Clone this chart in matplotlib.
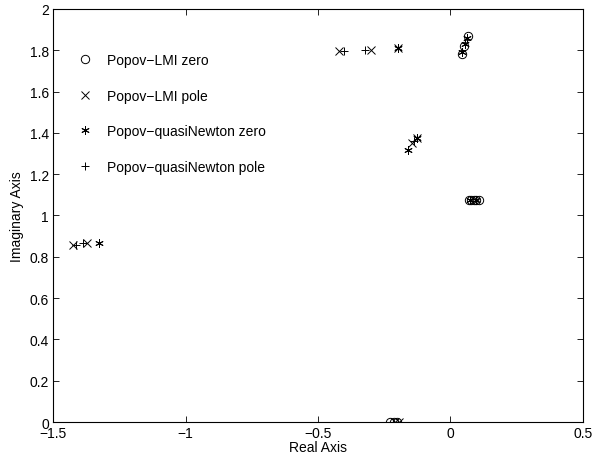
import matplotlib
matplotlib.use("Agg")
import matplotlib.pyplot as plt

plt.rcParams["font.family"] = ["Liberation Sans", "DejaVu Sans"]
plt.rcParams["axes.unicode_minus"] = True

# Popov-LMI zeros (o)
lmi_zero_re = [0.042, 0.051, 0.066, 0.068, 0.078, 0.088, 0.098, 0.106, -0.228, -0.214, -0.200]
lmi_zero_im = [1.782, 1.822, 1.871, 1.075, 1.075, 1.075, 1.075, 1.075, 0.0, 0.0, 0.0]
# Popov-LMI poles (x)
lmi_pole_re = [-1.425, -1.372, -0.421, -0.300, -0.198, -0.146, -0.125, -0.210, -0.195]
lmi_pole_im = [0.857, 0.866, 1.797, 1.803, 1.810, 1.351, 1.375, 0.0, 0.0]
# Popov-quasiNewton zeros (*)
qn_zero_re = [0.045, 0.055, 0.063, -1.328, -0.198, -0.162, -0.125, 0.075, 0.095]
qn_zero_im = [1.790, 1.832, 1.860, 0.868, 1.810, 1.317, 1.375, 1.075, 1.075]
# Popov-quasiNewton poles (+)
qn_pole_re = [-1.415, -1.385, -0.403, -0.323, -0.138]
qn_pole_im = [0.858, 0.865, 1.797, 1.803, 1.362]

fig = plt.figure(figsize=(6.06, 4.60), dpi=100)
ax = fig.add_axes([0.0875, 0.0804, 0.8745, 0.8979])

mk = dict(linestyle="none", color="black", markersize=6, markeredgewidth=0.7)
ax.plot(lmi_zero_re, lmi_zero_im, marker="o", markerfacecolor="none",
        label="Popov\u2212LMI zero", **mk)
ax.plot(lmi_pole_re, lmi_pole_im, marker="x", label="Popov\u2212LMI pole", **mk)
ax.plot(qn_zero_re, qn_zero_im, marker=(6, 2, 0),
        label="Popov\u2212quasiNewton zero", **mk)
ax.plot(qn_pole_re, qn_pole_im, marker="+", label="Popov\u2212quasiNewton pole", **mk)

ax.set_xlim(-1.5, 0.5)
ax.set_ylim(0, 2)
ax.set_xticks([-1.5, -1, -0.5, 0, 0.5])
ax.set_xticklabels(["\u22121.5", "\u22121", "\u22120.5", "0", "0.5"])
ax.set_yticks([0, 0.2, 0.4, 0.6, 0.8, 1, 1.2, 1.4, 1.6, 1.8, 2])
ax.set_yticklabels(["0", "0.2", "0.4", "0.6", "0.8", "1", "1.2", "1.4", "1.6", "1.8", "2"])
ax.tick_params(direction="in", top=True, right=True, labelsize=10, length=4, width=0.6, pad=3)
for s in ax.spines.values():
    s.set_linewidth(0.8)
ax.set_xlabel("Real Axis", fontsize=10, labelpad=0)
ax.set_ylabel("Imaginary Axis", fontsize=10, labelpad=4)

ax.legend(loc="upper left", frameon=False, fontsize=10, labelspacing=1.55,
          handlelength=1.2, handletextpad=1.0, borderaxespad=0.4,
          bbox_to_anchor=(0.024, 0.92))

fig.savefig("out.png", dpi=100)
